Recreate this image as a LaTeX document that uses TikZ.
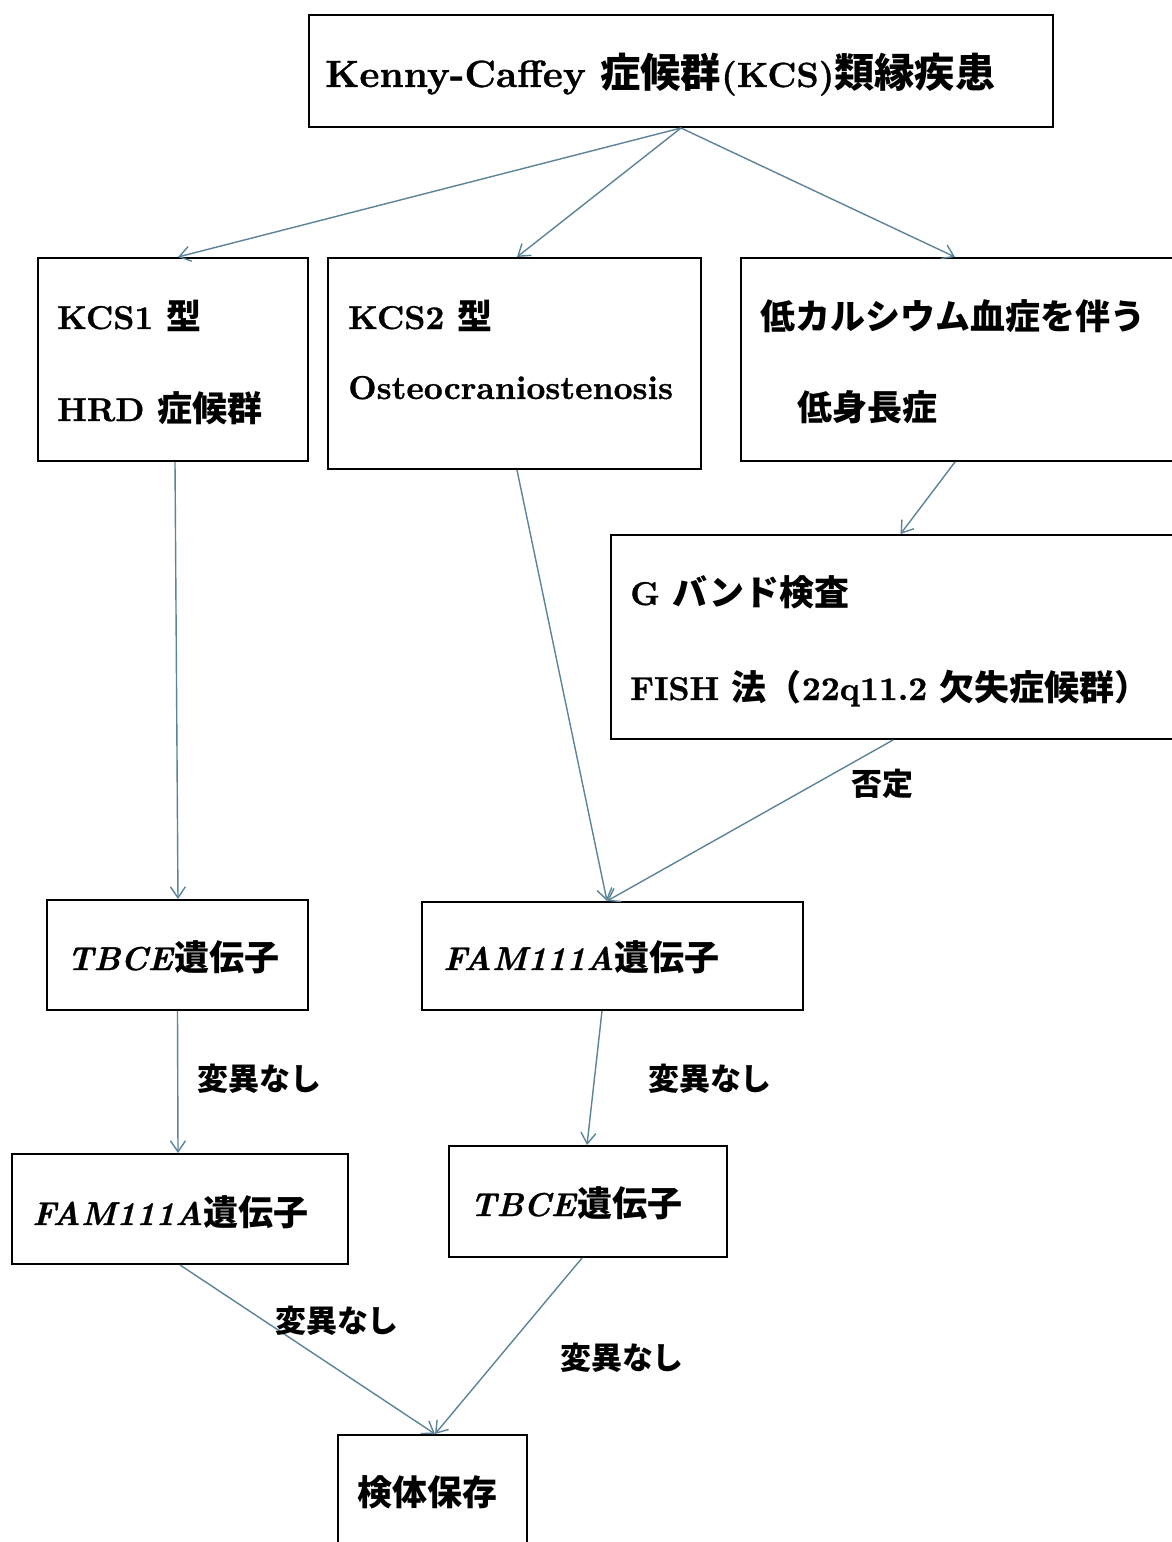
\documentclass[tikz,border=0pt]{standalone}
\usepackage{fontspec}
\usetikzlibrary{arrows.meta}
\setmainfont{lmroman10-regular.otf}[BoldFont=lmroman10-bold.otf, ItalicFont=lmroman10-italic.otf, BoldItalicFont=lmroman10-bolditalic.otf, BoldFeatures={FakeBold=0.8}, BoldItalicFeatures={FakeBold=0.8}]
\newfontfamily\jp{Noto Sans CJK JP}[Scale=1.06]
\newcommand\J[1]{{\jp #1}}
\definecolor{arr}{RGB}{92,132,152}
\tikzset{
  box/.style={draw=black, line width=2pt, rectangle, inner sep=0pt},
  txt/.style={anchor=base west, inner sep=0pt, font=\fontsize{33}{40}\selectfont\bfseries},
  lbl/.style={anchor=center, inner sep=0pt, font=\fontsize{29.2}{35}\selectfont\bfseries},
  conn/.style={draw=arr, line width=1.4pt, -{Straight Barb[length=11pt,width=15pt,line width=1.4pt]}}
}
\begin{document}
\begin{tikzpicture}[x=1pt,y=-1pt]
\useasboundingbox[fill=white] (0,0) rectangle (1171,1542);
% boxes
\node[box, minimum width=744pt, minimum height=112pt] (top) at (681,71) {};
\node[box, minimum width=270pt, minimum height=203pt] (kcs1) at (173,359.5) {};
\node[box, minimum width=373pt, minimum height=211pt] (kcs2) at (514.5,363.5) {};
\node[box, minimum width=449pt, minimum height=203pt] (lowca) at (965.5,359.5) {};
\node[box, minimum width=579pt, minimum height=204pt] (gband) at (900.5,637) {};
\node[box, minimum width=261pt, minimum height=110pt] (tbce1) at (177.5,955) {};
\node[box, minimum width=381pt, minimum height=108pt] (fam1) at (612.5,956) {};
\node[box, minimum width=336pt, minimum height=110pt] (fam2) at (180,1209) {};
\node[box, minimum width=278pt, minimum height=111pt] (tbce2) at (588,1201.5) {};
\node[box, minimum width=189pt, minimum height=125pt] (store) at (432.5,1497.5) {};
% texts
\node[txt, font=\fontsize{38}{44}\selectfont\bfseries] (ttop) at (325,87) {Kenny-Caffey \J{\fontsize{38}{46}\selectfont 症候群}{\fontsize{35}{44}\selectfont(KCS)}\J{\fontsize{38}{46}\selectfont 類縁疾患}};
\node[txt] (t1a) at (57,329) {KCS1 \J{型}};
\node[txt] (t1b) at (57,421) {HRD \J{症候群}};
\node[txt] (t2a) at (348,329) {KCS2 \J{型}};
\node[txt] (t2b) at (348,399) {Osteocraniostenosis};
\node[txt] (t3a) at (760,329) {\J{低カルシウム血症を伴う}};
\node[txt] (t3b) at (797,420) {\J{低身長症}};
\node[txt] (t4a) at (630,605) {G \J{バンド検査}};
\node[txt] (t4b) at (630,700) {FISH \J{法（}22q11.2 \J{欠失症候群）}};
\node[txt] (t5) at (67,970) {\itshape TBCE\/\J{\upshape 遺伝子}};
\node[txt] (t6) at (443,970) {\itshape FAM111A\/\J{\upshape 遺伝子}};
\node[txt] (t7) at (32,1225) {\itshape FAM111A\/\J{\upshape 遺伝子}};
\node[txt] (t8) at (470,1216) {\itshape TBCE\/\J{\upshape 遺伝子}};
\node[txt] (t9) at (357,1505) {\J{検体保存}};
% connectors
\draw[conn] (top.south) -- ([xshift=5pt]kcs1.north);
\draw[conn] (top.south) -- ([xshift=2.5pt]kcs2.north);
\draw[conn] (top.south) -- ([xshift=-10.5pt]lowca.north);
\draw[conn] ([xshift=-10.5pt]lowca.south) -- (gband.north);
\draw[conn] ([xshift=2pt]kcs1.south) -- ([xshift=0.5pt]tbce1.north);
\draw[conn] ([xshift=2.5pt]kcs2.south) -- ([xshift=-5.5pt]fam1.north);
\draw[conn] ([xshift=-7.5pt]gband.south) -- node[lbl, pos=0.0, xshift=-11pt, yshift=-44pt] (l0) {\J{否定}} ([xshift=-5.5pt]fam1.north);
\draw[conn] (tbce1.south) -- node[lbl, xshift=82pt, yshift=3pt] (l1) {\J{変異なし}} ([xshift=-2pt]fam2.north);
\draw[conn] ([xshift=-10.5pt]fam1.south) -- node[lbl, xshift=115.5pt, yshift=-1pt] (l2) {\J{変異なし}} ([xshift=-1pt]tbce2.north);
\draw[conn] (fam2.south) -- node[lbl, pos=0.0, xshift=157pt, yshift=-56pt] (l3) {\J{変異なし}} ([xshift=2.5pt]store.north);
\draw[conn] ([xshift=-6pt]tbce2.south) -- node[lbl, pos=0.0, xshift=40pt, yshift=-100pt] (l4) {\J{変異なし}} ([xshift=2.5pt]store.north);
\end{tikzpicture}
\end{document}
